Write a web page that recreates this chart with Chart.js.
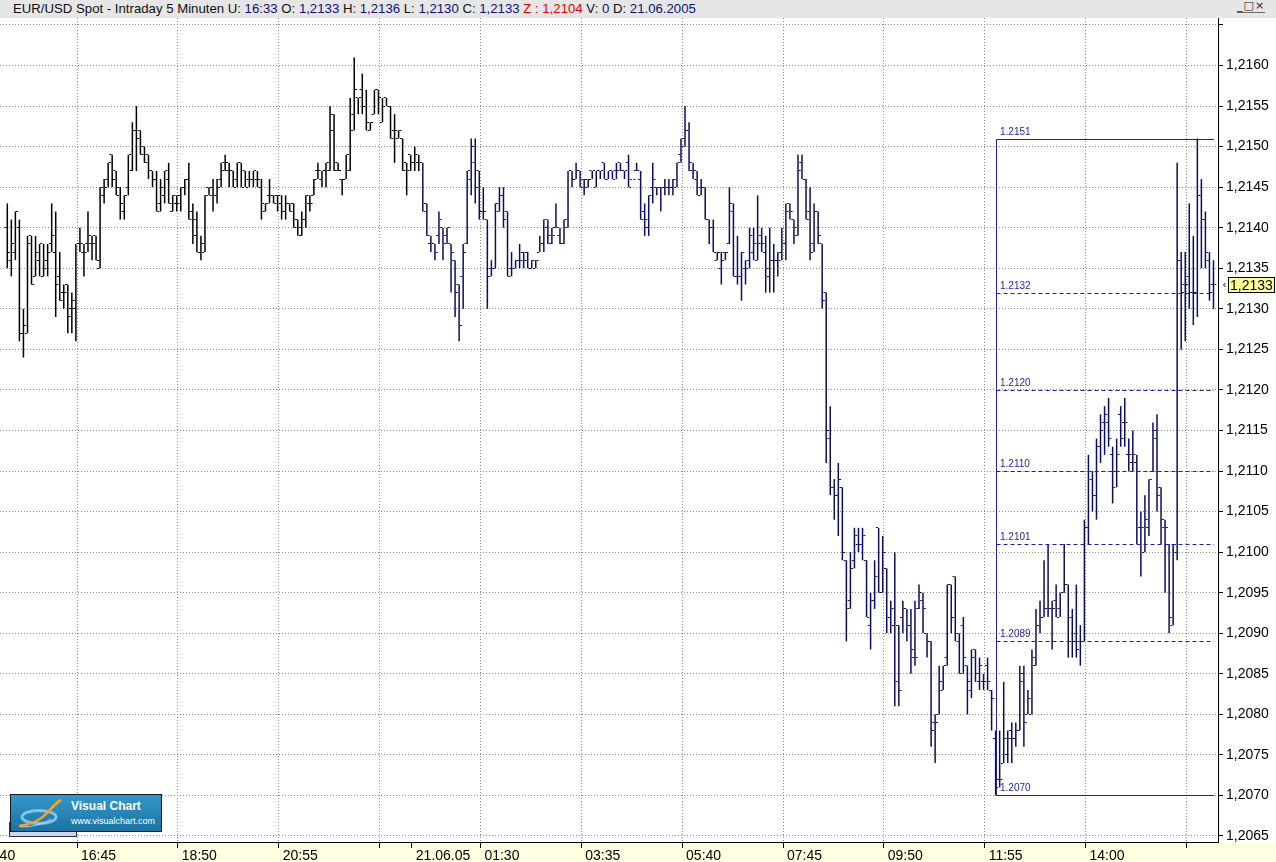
<!DOCTYPE html>
<html>
<head>
<meta charset="utf-8">
<script src="https://cdn.jsdelivr.net/npm/chart.js@4"></script>
<style>
html,body{margin:0;padding:0;background:#fff;}
#wrap{position:relative;width:1276px;height:862px;overflow:hidden;}
#c{position:absolute;left:0;top:0;}
#title{position:absolute;left:0;top:0;width:1276px;height:18px;background:#e6e6e6;font:13.2px "Liberation Sans",Arial,sans-serif;line-height:17px;white-space:nowrap;color:#111;}
#title .t{position:absolute;left:13px;top:0;}
#title .v{color:#10107a;}
#title .r{color:#e00000;}
#btns{position:absolute;left:1237px;top:0px;font:11px "DejaVu Sans",sans-serif;color:#222;letter-spacing:1px;line-height:12px;border-bottom:1px solid #666;}
#strip{position:absolute;left:9px;top:822px;width:66px;height:13px;background:#cbd5ef;border:1px solid #333;}
#logo{position:absolute;left:10px;top:794px;width:150px;height:36px;background:linear-gradient(#3598c8,#1b73a3);border:1px solid #1a1a1a;}
#logo .n{position:absolute;left:60px;top:4px;color:#fff;font:bold 12px "Liberation Sans",Arial,sans-serif;}
#logo .u{position:absolute;left:60px;top:21px;color:#fff;font:9px "Liberation Sans",Arial,sans-serif;}
</style>
</head>
<body>
<div id="wrap">
<canvas id="c" width="1276" height="862" style="width:1276px;height:862px"></canvas>
<div id="title"><span class="t">EUR/USD Spot - Intraday 5 Minuten U: <span class="v">16:33</span> O: <span class="v">1,2133</span> H: <span class="v">1,2136</span> L: <span class="v">1,2130</span> C: <span class="v">1,2133</span> <span class="r">Z : 1,2104</span> V: <span class="v">0</span> D: <span class="v">21.06.2005</span></span></div>
<div id="btns">_□×</div>
<div id="strip"></div>
<div id="logo">
<svg width="52" height="32" style="position:absolute;left:4px;top:2px">
<ellipse cx="24" cy="20" rx="17" ry="6.5" fill="none" stroke="#8fd0f4" stroke-width="3" opacity="0.85"/>
<path d="M4 29 Q 22 27 32 16 T 46 3" stroke="#f3a425" stroke-width="2.6" fill="none"/>
<path d="M6 30 Q 24 30 36 22" stroke="#bfe6f8" stroke-width="1" fill="none" opacity="0.8"/>
</svg>
<div class="n">Visual Chart</div>
<div class="u">www.visualchart.com</div>
</div>
</div>
<script>
const open = [
1.2140,1.2136,1.2137,1.2140,1.2127,1.2127,1.2139,1.2134,1.2136,1.2134,
1.2136,1.2138,1.2137,1.2134,1.2132,1.2133,1.2130,1.2130,1.2138,1.2137,
1.2138,1.2138,1.2139,1.2135,1.2144,1.2146,1.2149,1.2147,1.2145,1.2142,
1.2145,1.2147,1.2152,1.2152,1.2150,1.2149,1.2147,1.2146,1.2143,1.2144,
1.2146,1.2142,1.2143,1.2144,1.2145,1.2146,1.2142,1.2139,1.2137,1.2137,
1.2145,1.2145,1.2144,1.2146,1.2148,1.2147,1.2147,1.2146,1.2148,1.2147,
1.2146,1.2146,1.2146,1.2145,1.2142,1.2144,1.2144,1.2144,1.2143,1.2142,
1.2143,1.2143,1.2141,1.2139,1.2141,1.2143,1.2144,1.2147,1.2146,1.2147,
1.2147,1.2154,1.2148,1.2146,1.2146,1.2147,1.2154,1.2156,1.2157,1.2155,
1.2152,1.2154,1.2157,1.2153,1.2156,1.2155,1.2152,1.2151,1.2151,1.2148,
1.2149,1.2148,1.2148,1.2148,1.2143,1.2138,1.2138,1.2139,1.2140,1.2139,
1.2138,1.2136,1.2133,1.2134,1.2138,1.2146,1.2148,1.2147,1.2142,1.2141,
1.2135,1.2135,1.2142,1.2144,1.2142,1.2135,1.2135,1.2136,1.2137,1.2137,
1.2135,1.2135,1.2137,1.2138,1.2140,1.2138,1.2140,1.2139,1.2138,1.2140,
1.2147,1.2146,1.2147,1.2146,1.2145,1.2147,1.2145,1.2147,1.2148,1.2146,
1.2147,1.2147,1.2148,1.2147,1.2148,1.2146,1.2147,1.2146,1.2142,1.2140,
1.2145,1.2145,1.2145,1.2145,1.2145,1.2145,1.2145,1.2149,1.2151,1.2152,
1.2147,1.2146,1.2145,1.2145,1.2141,1.2140,1.2136,1.2135,1.2137,1.2138,
1.2142,1.2134,1.2134,1.2135,1.2136,1.2137,1.2136,1.2139,1.2137,1.2134,
1.2136,1.2136,1.2137,1.2138,1.2143,1.2141,1.2139,1.2148,1.2146,1.2142,
1.2138,1.2142,1.2138,1.2132,1.2114,1.2108,1.2107,1.2108,1.2099,1.2094,
1.2099,1.2101,1.2101,1.2099,1.2091,1.2094,1.2103,1.2095,1.2098,1.2092,
1.2091,1.2091,1.2092,1.2093,1.2091,1.2087,1.2093,1.2094,1.2090,1.2089,
1.2079,1.2080,1.2083,1.2087,1.2096,1.2097,1.2089,1.2091,1.2086,1.2083,
1.2088,1.2084,1.2084,1.2086,1.2083,1.2077,1.2072,1.2074,1.2075,1.2078,
1.2077,1.2078,1.2085,1.2080,1.2080,1.2086,1.2091,1.2092,1.2093,1.2093,
1.2094,1.2093,1.2095,1.2096,1.2092,1.2090,1.2089,1.2089,1.2103,1.2109,
1.2107,1.2113,1.2116,1.2116,1.2112,1.2110,1.2117,1.2116,1.2112,1.2111,
1.2111,1.2103,1.2100,1.2103,1.2110,1.2114,1.2108,1.2103,1.2101,1.2091,
1.2100,1.2136,1.2133,1.2134,1.2132,1.2132,1.2144,1.2141,1.2136,1.2133];
const high = [
1.2143,1.2141,1.2142,1.2141,1.2130,1.2139,1.2139,1.2139,1.2138,1.2138,
1.2138,1.2143,1.2142,1.2137,1.2133,1.2133,1.2132,1.2138,1.2140,1.2138,
1.2142,1.2139,1.2139,1.2145,1.2146,1.2148,1.2149,1.2147,1.2145,1.2144,
1.2149,1.2153,1.2155,1.2152,1.2150,1.2149,1.2147,1.2147,1.2146,1.2147,
1.2148,1.2144,1.2144,1.2145,1.2146,1.2148,1.2143,1.2142,1.2139,1.2144,
1.2145,1.2146,1.2146,1.2148,1.2149,1.2148,1.2147,1.2148,1.2148,1.2147,
1.2147,1.2147,1.2147,1.2146,1.2143,1.2146,1.2144,1.2144,1.2144,1.2144,
1.2143,1.2143,1.2141,1.2142,1.2144,1.2144,1.2146,1.2148,1.2147,1.2148,
1.2155,1.2154,1.2148,1.2146,1.2149,1.2156,1.2161,1.2156,1.2159,1.2157,
1.2153,1.2157,1.2157,1.2156,1.2156,1.2155,1.2154,1.2152,1.2151,1.2148,
1.2149,1.2150,1.2149,1.2148,1.2143,1.2139,1.2138,1.2142,1.2140,1.2140,
1.2138,1.2136,1.2133,1.2138,1.2147,1.2151,1.2151,1.2147,1.2145,1.2141,
1.2136,1.2143,1.2145,1.2145,1.2142,1.2137,1.2136,1.2138,1.2137,1.2137,
1.2136,1.2136,1.2139,1.2141,1.2141,1.2140,1.2143,1.2140,1.2141,1.2147,
1.2147,1.2148,1.2147,1.2146,1.2146,1.2147,1.2147,1.2147,1.2148,1.2147,
1.2147,1.2148,1.2148,1.2147,1.2149,1.2146,1.2148,1.2147,1.2143,1.2144,
1.2148,1.2145,1.2145,1.2146,1.2146,1.2146,1.2148,1.2151,1.2155,1.2153,
1.2148,1.2147,1.2146,1.2145,1.2141,1.2141,1.2137,1.2137,1.2137,1.2145,
1.2143,1.2139,1.2137,1.2136,1.2140,1.2140,1.2144,1.2140,1.2139,1.2140,
1.2138,1.2137,1.2140,1.2143,1.2143,1.2141,1.2149,1.2149,1.2146,1.2145,
1.2143,1.2142,1.2138,1.2132,1.2118,1.2109,1.2111,1.2108,1.2099,1.2100,
1.2103,1.2103,1.2103,1.2099,1.2095,1.2099,1.2103,1.2102,1.2098,1.2094,
1.2100,1.2091,1.2094,1.2093,1.2093,1.2094,1.2096,1.2095,1.2090,1.2089,
1.2080,1.2086,1.2086,1.2096,1.2096,1.2097,1.2090,1.2092,1.2086,1.2088,
1.2088,1.2087,1.2085,1.2087,1.2083,1.2078,1.2078,1.2084,1.2078,1.2079,
1.2079,1.2086,1.2086,1.2083,1.2088,1.2093,1.2094,1.2099,1.2101,1.2094,
1.2096,1.2095,1.2101,1.2096,1.2093,1.2096,1.2091,1.2104,1.2112,1.2110,
1.2114,1.2117,1.2118,1.2119,1.2113,1.2114,1.2118,1.2119,1.2114,1.2115,
1.2112,1.2105,1.2107,1.2109,1.2116,1.2117,1.2108,1.2104,1.2101,1.2101,
1.2148,1.2137,1.2137,1.2143,1.2139,1.2151,1.2146,1.2142,1.2137,1.2136];
const low = [
1.2135,1.2134,1.2136,1.2126,1.2124,1.2127,1.2133,1.2134,1.2134,1.2134,
1.2134,1.2137,1.2129,1.2131,1.2130,1.2127,1.2127,1.2126,1.2137,1.2134,
1.2137,1.2136,1.2136,1.2135,1.2143,1.2145,1.2145,1.2144,1.2141,1.2141,
1.2144,1.2147,1.2147,1.2149,1.2148,1.2146,1.2145,1.2142,1.2142,1.2143,
1.2143,1.2142,1.2142,1.2142,1.2144,1.2141,1.2138,1.2137,1.2136,1.2137,
1.2144,1.2142,1.2143,1.2145,1.2147,1.2145,1.2145,1.2145,1.2145,1.2145,
1.2145,1.2145,1.2145,1.2141,1.2142,1.2143,1.2143,1.2142,1.2141,1.2141,
1.2142,1.2140,1.2139,1.2139,1.2140,1.2142,1.2144,1.2146,1.2145,1.2145,
1.2147,1.2147,1.2147,1.2144,1.2146,1.2147,1.2152,1.2154,1.2154,1.2152,
1.2152,1.2154,1.2154,1.2153,1.2155,1.2151,1.2148,1.2151,1.2147,1.2144,
1.2147,1.2147,1.2147,1.2142,1.2139,1.2137,1.2136,1.2138,1.2136,1.2138,
1.2132,1.2129,1.2126,1.2130,1.2138,1.2144,1.2143,1.2141,1.2141,1.2130,
1.2134,1.2135,1.2142,1.2140,1.2134,1.2134,1.2135,1.2135,1.2135,1.2135,
1.2135,1.2135,1.2137,1.2137,1.2138,1.2138,1.2140,1.2138,1.2138,1.2140,
1.2145,1.2146,1.2145,1.2144,1.2145,1.2146,1.2145,1.2146,1.2146,1.2146,
1.2146,1.2146,1.2147,1.2146,1.2145,1.2146,1.2147,1.2141,1.2139,1.2139,
1.2143,1.2144,1.2142,1.2144,1.2144,1.2144,1.2145,1.2148,1.2150,1.2147,
1.2146,1.2144,1.2144,1.2141,1.2138,1.2137,1.2136,1.2133,1.2136,1.2138,
1.2134,1.2133,1.2131,1.2133,1.2135,1.2136,1.2136,1.2137,1.2132,1.2132,
1.2132,1.2134,1.2136,1.2136,1.2141,1.2138,1.2139,1.2146,1.2141,1.2136,
1.2137,1.2138,1.2130,1.2111,1.2107,1.2104,1.2102,1.2099,1.2089,1.2093,
1.2098,1.2100,1.2099,1.2092,1.2088,1.2093,1.2095,1.2095,1.2090,1.2090,
1.2081,1.2081,1.2090,1.2089,1.2085,1.2086,1.2093,1.2090,1.2087,1.2076,
1.2074,1.2080,1.2083,1.2086,1.2090,1.2089,1.2085,1.2085,1.2080,1.2082,
1.2084,1.2083,1.2083,1.2083,1.2078,1.2070,1.2071,1.2074,1.2074,1.2074,
1.2076,1.2078,1.2076,1.2080,1.2080,1.2086,1.2090,1.2092,1.2092,1.2088,
1.2092,1.2092,1.2095,1.2087,1.2087,1.2087,1.2086,1.2089,1.2101,1.2105,
1.2104,1.2111,1.2112,1.2113,1.2106,1.2108,1.2113,1.2113,1.2110,1.2110,
1.2101,1.2097,1.2100,1.2102,1.2110,1.2105,1.2101,1.2095,1.2090,1.2091,
1.2099,1.2125,1.2126,1.2130,1.2128,1.2129,1.2135,1.2135,1.2131,1.2130];
const close = [
1.2137,1.2138,1.2142,1.2127,1.2128,1.2138,1.2133,1.2137,1.2138,1.2135,
1.2137,1.2139,1.2133,1.2131,1.2132,1.2129,1.2131,1.2138,1.2138,1.2137,
1.2139,1.2138,1.2136,1.2145,1.2145,1.2148,1.2146,1.2144,1.2143,1.2144,
1.2149,1.2152,1.2151,1.2149,1.2148,1.2147,1.2146,1.2142,1.2145,1.2147,
1.2143,1.2144,1.2143,1.2145,1.2146,1.2141,1.2141,1.2137,1.2138,1.2144,
1.2144,1.2144,1.2145,1.2147,1.2148,1.2147,1.2145,1.2148,1.2145,1.2145,
1.2146,1.2147,1.2146,1.2143,1.2143,1.2144,1.2143,1.2144,1.2142,1.2143,
1.2142,1.2140,1.2140,1.2141,1.2144,1.2143,1.2146,1.2147,1.2147,1.2148,
1.2152,1.2147,1.2147,1.2146,1.2149,1.2152,1.2157,1.2156,1.2155,1.2153,
1.2153,1.2157,1.2156,1.2155,1.2155,1.2151,1.2152,1.2152,1.2147,1.2147,
1.2148,1.2149,1.2148,1.2142,1.2139,1.2138,1.2137,1.2141,1.2138,1.2140,
1.2137,1.2132,1.2128,1.2137,1.2147,1.2150,1.2145,1.2142,1.2142,1.2134,
1.2135,1.2143,1.2144,1.2141,1.2134,1.2135,1.2136,1.2136,1.2136,1.2135,
1.2136,1.2136,1.2138,1.2141,1.2139,1.2139,1.2140,1.2138,1.2141,1.2147,
1.2146,1.2147,1.2145,1.2146,1.2146,1.2147,1.2147,1.2147,1.2146,1.2147,
1.2146,1.2147,1.2147,1.2147,1.2145,1.2146,1.2147,1.2141,1.2141,1.2144,
1.2146,1.2145,1.2145,1.2145,1.2145,1.2146,1.2148,1.2150,1.2152,1.2148,
1.2147,1.2144,1.2145,1.2141,1.2140,1.2137,1.2137,1.2136,1.2137,1.2143,
1.2134,1.2134,1.2137,1.2135,1.2139,1.2138,1.2138,1.2138,1.2135,1.2136,
1.2136,1.2136,1.2138,1.2142,1.2142,1.2140,1.2147,1.2146,1.2141,1.2137,
1.2142,1.2139,1.2131,1.2115,1.2108,1.2107,1.2109,1.2100,1.2093,1.2098,
1.2102,1.2101,1.2102,1.2092,1.2094,1.2097,1.2095,1.2100,1.2092,1.2093,
1.2084,1.2083,1.2093,1.2091,1.2088,1.2087,1.2095,1.2093,1.2089,1.2078,
1.2079,1.2084,1.2086,1.2096,1.2092,1.2090,1.2085,1.2087,1.2084,1.2087,
1.2085,1.2086,1.2084,1.2084,1.2082,1.2071,1.2072,1.2077,1.2077,1.2077,
1.2078,1.2084,1.2079,1.2082,1.2087,1.2091,1.2092,1.2093,1.2093,1.2093,
1.2092,1.2095,1.2096,1.2089,1.2089,1.2088,1.2089,1.2103,1.2110,1.2107,
1.2113,1.2115,1.2117,1.2114,1.2108,1.2112,1.2114,1.2116,1.2112,1.2112,
1.2101,1.2103,1.2104,1.2109,1.2115,1.2107,1.2104,1.2103,1.2092,1.2101,
1.2136,1.2132,1.2133,1.2132,1.2132,1.2144,1.2141,1.2137,1.2132,1.2133];

// time axis: bar index of each labelled tick and its text
const xTickIndex  = [-8, 17, 42, 67, 92, 100, 117, 142, 167, 192, 217, 242, 267, 292];
const xTickLabels = ['14:40','16:45','18:50','20:55','','21.06.05','01:30','03:35','05:40','07:45','09:50','11:55','14:00',''];
const dayTick = '21.06.05';

// Fibonacci retracement drawn on the chart
const fibStartIndex = 245;
const fibLevels = [1.2151, 1.2132, 1.2120, 1.2110, 1.2101, 1.2089, 1.2070];
const fibLabels = ['1.2151','1.2132','1.2120','1.2110','1.2101','1.2089','1.2070'];

const todayFirstBar = 103;
const BLACK = '#000000', NAVY = '#0d0d5e', FIB = '#1f1fa6';
const barColor = i => (i >= todayFirstBar ? NAVY : BLACK);
const fmt = v => v.toFixed(4).replace('.', ',');

const bgPlugin = {
  id: 'bg',
  beforeDraw(chart) {
    const {ctx, width, height, chartArea} = chart;
    ctx.save();
    ctx.fillStyle = '#ffffff';
    ctx.fillRect(0, 0, width, height);
    ctx.fillStyle = '#ffffe1';
    ctx.fillRect(0, chartArea.bottom, width, height - chartArea.bottom);
    ctx.restore();
  }
};

const ohlcTicks = {
  id: 'ohlcTicks',
  afterDatasetsDraw(chart) {
    const {ctx, chartArea, scales: {x, y}} = chart;
    ctx.save();
    ctx.beginPath();
    ctx.rect(chartArea.left, chartArea.top, chartArea.width, chartArea.height);
    ctx.clip();
    for (let i = 0; i < open.length; i++) {
      const px = x.getPixelForValue(i);
      ctx.fillStyle = barColor(i);
      const yo = Math.floor(y.getPixelForValue(open[i]));
      const yc = Math.floor(y.getPixelForValue(close[i]));
      ctx.fillRect(px - 2.75, yo, 2, 1);
      ctx.fillRect(px + 0.75, yc, 2, 1);
    }
    // Fibonacci box
    const xl = Math.round(x.getPixelForValue(fibStartIndex)) + 0.5;
    const xr = chartArea.right - 4;
    const yTop = Math.round(y.getPixelForValue(fibLevels[0])) + 0.5;
    const yBot = Math.round(y.getPixelForValue(fibLevels[fibLevels.length - 1])) + 0.5;
    ctx.strokeStyle = FIB;
    ctx.lineWidth = 1;
    ctx.beginPath();
    ctx.moveTo(xr, yTop); ctx.lineTo(xl, yTop); ctx.lineTo(xl, yBot); ctx.lineTo(xr, yBot);
    ctx.stroke();
    ctx.setLineDash([4, 3]);
    for (let k = 1; k < fibLevels.length - 1; k++) {
      const yy = Math.round(y.getPixelForValue(fibLevels[k])) + 0.5;
      ctx.beginPath(); ctx.moveTo(xl, yy); ctx.lineTo(xr, yy); ctx.stroke();
    }
    ctx.setLineDash([]);
    ctx.fillStyle = FIB;
    ctx.font = '10px "Liberation Sans", Arial, sans-serif';
    ctx.textBaseline = 'alphabetic';
    ctx.textAlign = 'left';
    for (let k = 0; k < fibLevels.length; k++) {
      const yy = y.getPixelForValue(fibLevels[k]);
      ctx.fillText(fibLabels[k], xl + 3.5, yy - 4);
    }
    ctx.restore();
  },
  afterDraw(chart) {
    const {ctx, chartArea, scales: {y}} = chart;
    const last = close[close.length - 1];
    const py = Math.round(y.getPixelForValue(last));
    const bx = chartArea.right + 10;
    ctx.save();
    ctx.fillStyle = '#ffff99';
    ctx.fillRect(bx, py - 8, 47, 16);
    ctx.strokeStyle = '#000';
    ctx.lineWidth = 1;
    ctx.strokeRect(bx + 0.5, py - 7.5, 46, 15);
    ctx.fillStyle = '#000';
    ctx.font = '14px "Liberation Sans", Arial, sans-serif';
    ctx.textBaseline = 'middle';
    ctx.fillText(fmt(last), bx + 2, py + 1);
    ctx.beginPath();
    ctx.moveTo(chartArea.right + 7.5, py - 2);
    ctx.lineTo(chartArea.right + 5.5, py);
    ctx.lineTo(chartArea.right + 7.5, py + 2);
    ctx.stroke();
    ctx.restore();
  }
};

const GRID = '#8c8c8c';
new Chart(document.getElementById('c'), {
  type: 'bar',
  data: {
    datasets: [{
      data: high.map((h, i) => ({x: i, y: [low[i], h]})),
      backgroundColor: c => barColor(c.dataIndex),
      borderWidth: 0,
      barThickness: 1.5,
      inflateAmount: 0,
      grouped: false
    }]
  },
  options: {
    responsive: false,
    animation: false,
    devicePixelRatio: 1,
    layout: {padding: {top: 18, left: 0, right: 0, bottom: 0}},
    plugins: {legend: {display: false}, tooltip: {enabled: false}, title: {display: false}},
    events: [],
    scales: {
      x: {
        type: 'linear',
        min: -1.81,
        max: 300.12,
        offset: false,
        grid: {
          offset: false,
          color: c => (xTickLabels[c.index] === dayTick ? 'rgba(0,0,0,0)' : GRID),
          lineWidth: 1,
          drawTicks: true,
          tickLength: 6,
          tickColor: '#000',
          tickBorderDash: []
        },
        border: {display: true, color: '#000', width: 1, dash: [1, 2]},
        ticks: {
          autoSkip: false,
          maxRotation: 0,
          minRotation: 0,
          align: 'start',
          padding: 0,
          color: '#000',
          font: {family: '"Liberation Sans", Arial, sans-serif', size: 14},
          callback: (v, i) => ' ' + xTickLabels[i]
        },
        afterBuildTicks: s => { s.ticks = xTickIndex.map(v => ({value: v + 0.3})); },
        afterFit: s => { s.height = 20; s.paddingLeft = 0; s.paddingRight = 0; }
      },
      y: {
        type: 'linear',
        position: 'right',
        min: 1.206426,
        max: 1.216586,
        beginAtZero: false,
        grid: {
          color: GRID,
          lineWidth: 1,
          drawTicks: true,
          tickLength: 5,
          tickColor: '#000',
          tickBorderDash: []
        },
        border: {display: true, color: '#000', width: 1, dash: [1, 2]},
        ticks: {
          stepSize: 0.0005,
          includeBounds: false,
          padding: 3,
          color: '#000',
          font: {family: '"Liberation Sans", Arial, sans-serif', size: 14},
          callback: v => (v > 1.21605 ? '' : fmt(v))
        },
        afterFit: s => { s.width = 58; s.paddingTop = 0; s.paddingBottom = 0; }
      }
    }
  },
  plugins: [bgPlugin, ohlcTicks]
});
</script>
</body>
</html>
